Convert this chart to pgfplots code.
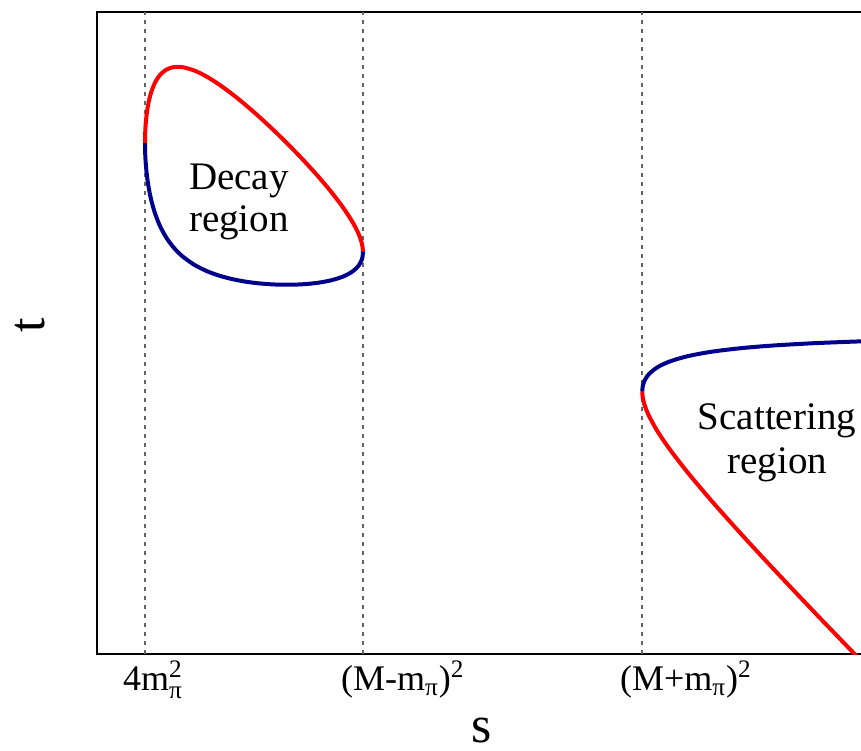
\documentclass[border=0pt]{standalone}
\usepackage{amsmath}
\usepackage{pgfplots}
\pgfplotsset{compat=1.18}
\usepackage{fontspec}
\setmainfont{Liberation Serif}
\definecolor{bndred}{RGB}{255,0,0}
\definecolor{bndblue}{RGB}{0,0,140}
\definecolor{guide}{RGB}{100,100,100}

\begin{document}
\begin{tikzpicture}
\begin{axis}[
  x=0.5pt, y=0.5pt,
  xmin=97, xmax=900, ymin=96, ymax=738,
  axis line style={line width=1.1pt},
  ytick=\empty,
  xtick={145,363,642},
  xticklabels={4m$^{\text{2}}_{\text{π}}$, (M-m$_{\text{π}}$)$^{\text{2}}$, (M+m$_{\text{π}}$)$^{\text{2}}$},
  major tick length=0pt,
  xticklabel style={font=\fontsize{18}{20}\selectfont, anchor=base west, xshift=-14.5pt, yshift=-18pt},
  xlabel={s}, ylabel={t},
  xlabel style={at={(axis cs:482,8)}, anchor=base, inner sep=0pt, font=\fontsize{26}{28}\selectfont},
  ylabel style={at={(axis cs:30,425)}, anchor=center, inner sep=0pt, font=\fontsize{26}{28}\selectfont},
]
% page frame
\coordinate (bl) at (axis cs:0,0);
\coordinate (tr) at (axis cs:861,750);

% thresholds
\addplot[guide, line width=0.6pt, dash pattern=on 2pt off 2.5pt] coordinates {(145,96) (145,738)};
\addplot[guide, line width=0.6pt, dash pattern=on 2pt off 2.5pt] coordinates {(363,96) (363,738)};
\addplot[guide, line width=0.6pt, dash pattern=on 2pt off 2.5pt] coordinates {(642,96) (642,738)};

% decay region boundary: upper branch
\addplot[bndred, line width=2pt, smooth] coordinates {
  (145,607.0) (145.12,615.15) (145.62,624.95) (146.85,637.19) (148.71,648.10)
  (151.18,657.66) (154.88,667.07) (159.82,674.79) (166.0,680.14) (173.41,682.87)
  (182.05,682.93) (194.4,679.45) (206.75,673.34) (219.1,665.52) (231.45,656.49)
  (243.8,646.57) (256.15,635.91) (268.5,624.66) (280.85,612.85) (293.2,600.48)
  (305.55,587.53) (317.9,573.87) (330.25,559.27) (342.6,543.15) (352.48,528.05)
  (358.66,515.96) (361.74,507.03) (362.61,502.79) (362.98,498.01)
};
% decay region boundary: lower branch
\addplot[bndblue, line width=2pt, smooth] coordinates {
  (145,607.0) (145.12,598.73) (145.62,588.44) (146.85,574.97) (148.71,562.20)
  (151.18,550.17) (154.88,537.05) (159.82,524.39) (166.0,512.87) (173.41,502.73)
  (182.05,494.03) (194.4,485.16) (206.75,478.92) (219.1,474.39) (231.45,471.07)
  (243.8,468.63) (256.15,466.94) (268.5,465.84) (280.85,465.31) (293.2,465.32)
  (305.55,465.93) (317.9,467.24) (330.25,469.49) (342.6,473.25) (352.48,478.48)
  (358.66,484.40) (361.74,490.23) (362.61,493.61) (362.98,498.01)
};

% scattering region boundary: upper branch
\addplot[bndblue, line width=2pt, smooth] coordinates {
  (642.24,358.39) (642.36,360.84) (642.71,363.61) (644.56,369.42) (648.88,375.86)
  (657.53,382.79) (669.88,388.59) (688.4,393.98) (713.1,398.50) (743.98,402.13)
  (774.85,404.60) (811.9,406.70) (848.95,408.22) (867.48,408.84)
};
% scattering region boundary: lower branch
\addplot[bndred, line width=2pt, smooth] coordinates {
  (642.24,358.39) (642.36,355.83) (642.71,352.69) (644.56,345.03) (648.88,334.27)
  (657.53,318.69) (669.88,300.54) (688.4,276.63) (713.1,247.41) (743.98,212.90)
  (774.85,179.56) (811.9,140.41) (848.95,101.84) (867.48,82.70)
};

\node[anchor=base, font=\fontsize{19.5}{22}\selectfont] at (axis cs:239,560) {Decay};
\node[anchor=base, font=\fontsize{19.5}{22}\selectfont] at (axis cs:239,518) {region};
\node[anchor=base, font=\fontsize{19.5}{22}\selectfont] at (axis cs:777,321) {Scattering};
\node[anchor=base, font=\fontsize{19.5}{22}\selectfont] at (axis cs:777.5,277) {region};
\end{axis}
\pgfresetboundingbox
\path[use as bounding box] (bl) rectangle (tr);
\end{tikzpicture}
\end{document}
